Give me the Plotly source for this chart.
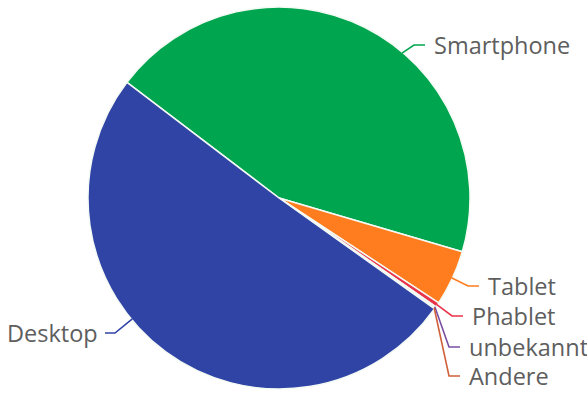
import math
import plotly.graph_objects as go

# ---- data ----
labels = ["Smartphone", "Tablet", "Phablet", "unbekannt", "Andere", "Desktop"]
values = [44.2, 4.7, 0.4, 0.1, 0.1, 50.5]

# ---- style / layout ----
colors = ["#00A54F", "#FF7C1F", "#E8334A", "#7A4FA3", "#D0603A", "#3044A6"]
W, H = 587, 413
cx, cy, R = 279, 198, 191
rotation_deg = -52.75
anchor_frac = [0.585, 0.5, 0.5, 0.5, 0.5, 0.578]
label_pos = {
    "Smartphone": (432, 45, "left"),
    "Tablet": (486, 286, "left"),
    "Phablet": (470, 316, "left"),
    "unbekannt": (467, 347, "left"),
    "Andere": (467, 376, "left"),
    "Desktop": (100, 333, "right"),
}

def px(x):
    return x / W

def py(y):
    return 1 - y / H

fig = go.Figure(go.Pie(
    labels=labels,
    values=values,
    sort=False,
    direction="clockwise",
    rotation=rotation_deg,
    marker=dict(colors=colors, line=dict(color="#F4FAF4", width=1.5)),
    textinfo="none",
    hoverinfo="label+percent",
    domain=dict(x=[px(cx - R), px(cx + R)], y=[py(cy + R), py(cy - R)]),
))

total = sum(values)
start = rotation_deg
shapes = []
annotations = []
for lab, v, col, fr in zip(labels, values, colors, anchor_frac):
    span = v / total * 360
    a = math.radians(start + fr * span)
    start += span
    sx = cx + (R - 1) * math.sin(a)
    sy = cy - (R - 1) * math.cos(a)
    tx, ty, side = label_pos[lab]
    if side == "left":
        ex = tx - 7
        elx = ex - 11
    else:
        ex = tx + 5
        elx = ex + 10
    path = f"M {px(sx)},{py(sy)} L {px(elx)},{py(ty)} L {px(ex)},{py(ty)}"
    shapes.append(dict(type="path", path=path, xref="paper", yref="paper",
                       line=dict(color=col, width=1.6)))
    annotations.append(dict(x=px(tx), y=py(ty), xref="paper", yref="paper",
                            text=lab, showarrow=False,
                            xanchor=side, yanchor="middle",
                            font=dict(family="Open Sans", size=23.5, color="#5E5E5E")))

fig.update_layout(
    width=W, height=H,
    margin=dict(l=0, r=0, t=0, b=0),
    paper_bgcolor="white",
    plot_bgcolor="white",
    showlegend=False,
    shapes=shapes,
    annotations=annotations,
)

fig.write_html("out.html", config={"displayModeBar": False},
               post_script="document.body.style.margin='0px';")
